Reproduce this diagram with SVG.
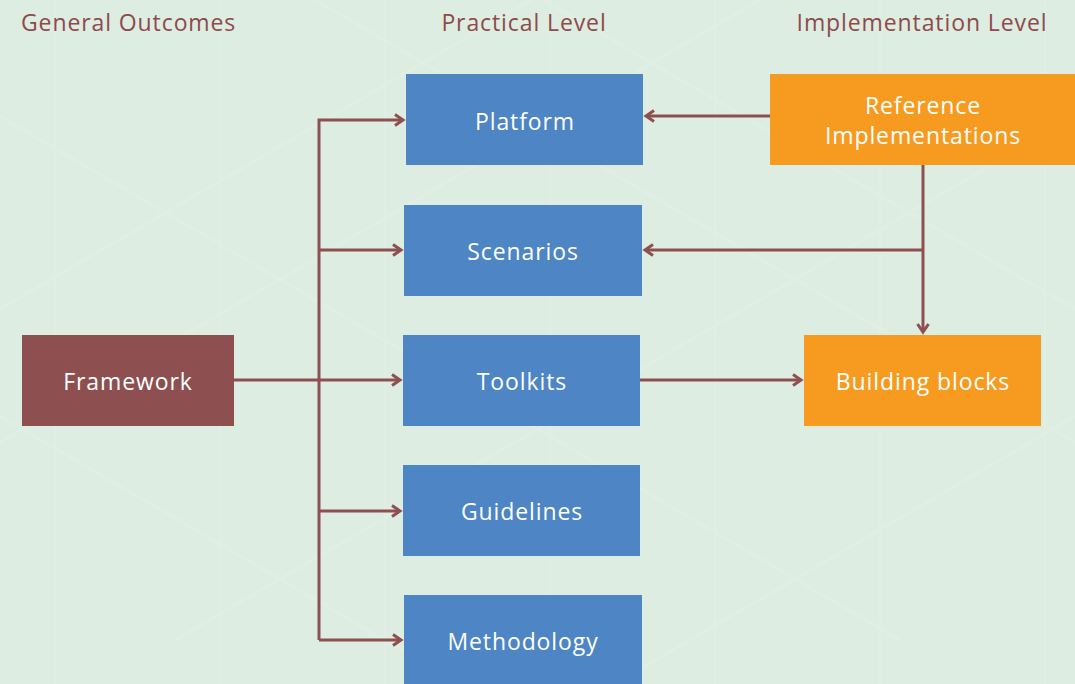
<svg xmlns="http://www.w3.org/2000/svg" width="1075" height="684" viewBox="0 0 1075 684">
<defs>
<style>
.hdr{font-family:"Open Sans","Liberation Sans",sans-serif;font-size:23px;letter-spacing:0.9px;fill:#8e4a4b}
.lbl{font-family:"Open Sans","Liberation Sans",sans-serif;font-size:23px;letter-spacing:0.9px;fill:#ffffff;text-anchor:middle}
.blue{fill:#4d85c5}
.orange{fill:#f79a20}
.brown{fill:#8e4f50}
.con{fill:none;stroke:#8e4f50;stroke-width:3}
.pat{fill:none;stroke:#e4f0e7;stroke-width:3}
</style>
<marker id="ah" markerWidth="14" markerHeight="14" refX="11" refY="7" orient="auto" markerUnits="userSpaceOnUse">
<path d="M3,1.5 L11,7 L3,12.5" fill="none" stroke="#8e4f50" stroke-width="3"/>
</marker>
</defs>
<rect width="1075" height="684" fill="#ddede1"/>
<g id="bgpattern" class="pat" opacity="0.6">
<path d="M55,0 V684 M220,0 V684 M385,0 V684 M550,0 V684 M715,0 V684 M880,0 V684 M1045,0 V684"/>
<path d="M-200,0 L900,640 M-200,-300 L1200,515 M-200,300 L500,707 M200,-200 L1300,440"/>
<path d="M1275,0 L175,640 M1275,-300 L-125,515 M1275,300 L575,707 M875,-200 L-225,440"/>
</g>
<g id="headers">
<text class="hdr" x="21" y="31">General Outcomes</text>
<text class="hdr" x="524" y="31" text-anchor="middle">Practical Level</text>
<text class="hdr" x="922" y="31" text-anchor="middle">Implementation Level</text>
</g>
<g id="connectors">
<path class="con" d="M234,380 H400" marker-end="url(#ah)"/>
<path class="con" d="M319,640 V120 H403" marker-end="url(#ah)"/>
<path class="con" d="M319,250 H401" marker-end="url(#ah)"/>
<path class="con" d="M319,511 H400" marker-end="url(#ah)"/>
<path class="con" d="M319,640 H401" marker-end="url(#ah)"/>
<path class="con" d="M770,116 H646" marker-end="url(#ah)"/>
<path class="con" d="M923,165 V332" marker-end="url(#ah)"/>
<path class="con" d="M923,250 H645" marker-end="url(#ah)"/>
<path class="con" d="M640,380 H801" marker-end="url(#ah)"/>
</g>
<g id="framework"><rect class="brown" x="22" y="335" width="212" height="91"/><text class="lbl" x="128" y="390">Framework</text></g>
<g id="platform"><rect class="blue" x="406" y="74" width="237" height="91"/><text class="lbl" x="525" y="130">Platform</text></g>
<g id="scenarios"><rect class="blue" x="404" y="205" width="238" height="91"/><text class="lbl" x="523" y="260">Scenarios</text></g>
<g id="toolkits"><rect class="blue" x="403" y="335" width="237" height="91"/><text class="lbl" x="522" y="390">Toolkits</text></g>
<g id="guidelines"><rect class="blue" x="403" y="465" width="237" height="91"/><text class="lbl" x="522" y="520">Guidelines</text></g>
<g id="methodology"><rect class="blue" x="404" y="595" width="238" height="95"/><text class="lbl" x="523" y="650">Methodology</text></g>
<g id="refimpl"><rect class="orange" x="770" y="74" width="305" height="91"/><text class="lbl" x="923" y="114">Reference</text><text class="lbl" x="923" y="144">Implementations</text></g>
<g id="buildingblocks"><rect class="orange" x="804" y="335" width="237" height="91"/><text class="lbl" x="923" y="390">Building blocks</text></g>
</svg>
